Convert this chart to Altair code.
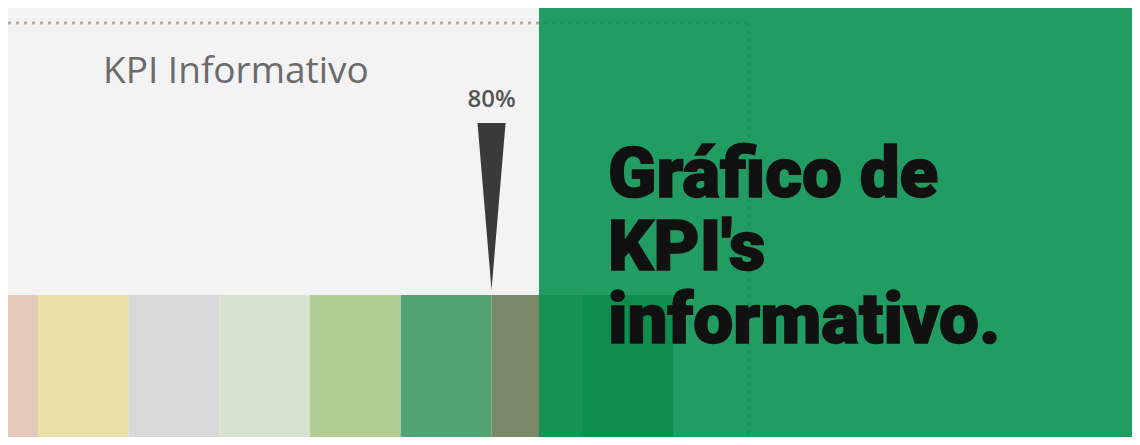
import altair as alt
import pandas as pd

# KPI bands (percent ranges) and their colours
band_start = [20, 30, 40, 50, 60, 70, 80, 90]
band_end = [30, 40, 50, 60, 70, 80, 90, 100]
band_color = ["#e4c9b8", "#ebe0a7", "#d8d8d8", "#d7e3d0", "#b1cd94", "#50a372", "#7a8a68", "#2d5a2d"]

# KPI pointer
kpi_value = [80]
kpi_label = ["80%"]

title_text = "KPI Informativo"
headline = ["Gráfico de", "KPI's", "informativo."]

W, H = 1124, 429
x_scale = alt.Scale(domain=[26.7, 150.6], nice=False, zero=False)

bands_df = pd.DataFrame({"start": band_start, "end": band_end, "color": band_color})
kpi_df = pd.DataFrame({"value": kpi_value, "label": kpi_label})
one = pd.DataFrame({"k": [0]})

bands = alt.Chart(bands_df).mark_rect(clip=True).encode(
    x=alt.X("start:Q", scale=x_scale, axis=None),
    x2="end:Q",
    y=alt.value(287),
    y2=alt.value(H),
    color=alt.Color("color:N", scale=None),
)

dots = dict(color="#bba69c", strokeDash=[3, 5], strokeWidth=3)
top_line = alt.Chart(one).mark_rule(**dots).encode(
    x=alt.value(0), x2=alt.value(741), y=alt.value(15)
)
side_line = alt.Chart(one).mark_rule(**dots).encode(
    x=alt.value(741), y=alt.value(15), y2=alt.value(H)
)

title = alt.Chart(one).mark_text(
    text=title_text, font="Open Sans", fontSize=37, color="#6b6b6b",
    align="left", baseline="alphabetic",
).encode(x=alt.value(95), y=alt.value(75))

label = alt.Chart(kpi_df).mark_text(
    font="Open Sans", fontSize=24, fontWeight=600, color="#555555",
    align="center", baseline="alphabetic",
).encode(
    x=alt.X("value:Q", scale=x_scale, axis=None),
    y=alt.value(99),
    text="label:N",
)

pointer = alt.Chart(kpi_df).mark_point(
    shape="M-0.168,-1L0.168,-1L0,1Z", filled=True, color="#3a3a3a",
    opacity=1, strokeWidth=0, size=27889,
).encode(
    x=alt.X("value:Q", scale=x_scale, axis=None),
    y=alt.value(198.5),
)

overlay = alt.Chart(one).mark_rect(color="#0a9252", opacity=0.9).encode(
    x=alt.value(531), x2=alt.value(W), y=alt.value(0), y2=alt.value(H)
)

head = alt.Chart(one).mark_text(
    text=headline, font="Roboto", fontWeight=900, fontSize=71, lineHeight=73,
    color="#111111", stroke="#111111", strokeWidth=1.6,
    align="left", baseline="alphabetic",
).encode(x=alt.value(600), y=alt.value(189))

chart = (
    alt.layer(bands, top_line, side_line, title, label, pointer, overlay, head)
    .properties(width=W, height=H, autosize=alt.AutoSizeParams(type="none"), padding=0,
                background="#f3f3f3")
    .configure_view(stroke=None, fill="#f3f3f3")
)

chart.save("out.html", embed_options={"renderer": "svg", "actions": False})
